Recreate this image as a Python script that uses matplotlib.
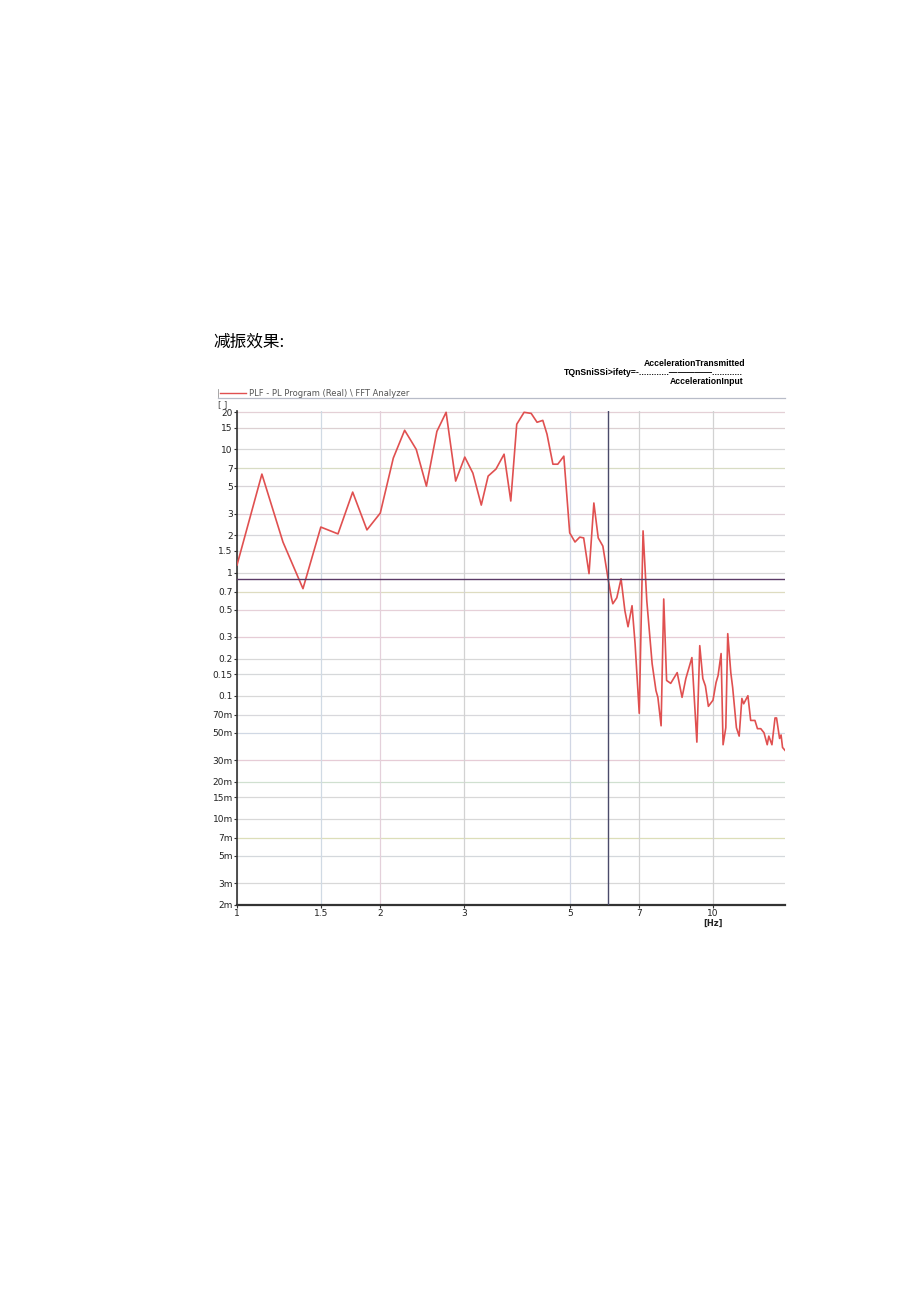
import matplotlib
matplotlib.use("Agg")
import matplotlib.pyplot as plt
from matplotlib.lines import Line2D

plt.rcParams['font.family'] = ['DejaVu Sans']

# response curve (Hz, ratio)
freq = [1.0, 1.128, 1.249, 1.376, 1.5, 1.63, 1.75, 1.875, 2.0, 2.13, 2.25, 2.38, 2.5,
        2.63, 2.75, 2.88, 3.01, 3.13, 3.26, 3.37, 3.5, 3.64, 3.76, 3.87, 4.01, 4.15,
        4.27, 4.39, 4.48, 4.61, 4.72, 4.86, 5.0, 5.13, 5.25, 5.35, 5.49, 5.62, 5.74,
        5.87, 6.02, 6.12, 6.16, 6.28, 6.41, 6.53, 6.63, 6.76, 6.86, 7.0, 7.13, 7.26,
        7.45, 7.59, 7.66, 7.78, 7.88, 7.99, 8.15, 8.41, 8.61, 8.77, 9.03, 9.25, 9.38,
        9.52, 9.64, 9.78, 10.0, 10.15, 10.25, 10.4, 10.5, 10.64, 10.74, 10.9, 11.0,
        11.2, 11.35, 11.5, 11.6, 11.84, 12.0, 12.25, 12.4, 12.6, 12.8, 13.0, 13.1,
        13.3, 13.5, 13.6, 13.8, 13.9, 14.0, 14.17]
ratio = [1.15, 6.3, 1.77, 0.74, 2.34, 2.06, 4.5, 2.22, 3.04, 8.5, 14.3, 10.0, 5.03,
         14.0, 20.0, 5.53, 8.66, 6.42, 3.53, 6.07, 6.92, 9.14, 3.81, 16.0, 20.0, 19.6,
         16.6, 17.2, 13.3, 7.58, 7.58, 8.81, 2.1, 1.77, 1.94, 1.91, 0.98, 3.67, 1.91,
         1.64, 0.89, 0.62, 0.558, 0.624, 0.89, 0.49, 0.363, 0.538, 0.265, 0.072, 2.18,
         0.59, 0.182, 0.11, 0.097, 0.057, 0.61, 0.133, 0.126, 0.154, 0.097, 0.138,
         0.204, 0.042, 0.255, 0.138, 0.12, 0.082, 0.092, 0.128, 0.146, 0.22, 0.04,
         0.055, 0.319, 0.154, 0.116, 0.055, 0.047, 0.095, 0.086, 0.1, 0.063, 0.063,
         0.054, 0.054, 0.05, 0.04, 0.047, 0.04, 0.066, 0.066, 0.045, 0.048, 0.038,
         0.036]

limit_level = 0.889
cut_freq = 6.02

ytick_vals = [20, 15, 10, 7, 5, 3, 2, 1.5, 1, 0.7, 0.5, 0.3, 0.2, 0.15, 0.1,
              0.07, 0.05, 0.03, 0.02, 0.015, 0.01, 0.007, 0.005, 0.003, 0.002]
ytick_text = ["20", "15", "10", "7", "5", "3", "2", "1.5", "1", "0.7", "0.5", "0.3",
              "0.2", "0.15", "0.1", "70m", "50m", "30m", "20m", "15m", "10m", "7m",
              "5m", "3m", "2m"]
xtick_vals = [1, 1.5, 2, 3, 5, 7, 10]
xtick_text = ["1", "1.5", "2", "3", "5", "7", "10"]

# faint tints of the analyzer grid
hgrid_cols = ["#e4d0d6", "#dcd0d2", "#d8d8d8", "#d8dcc4", "#d8d4d8", "#e0d0d8",
              "#d6d6da", "#dcdcdc", "#d8d8d8", "#dedcc0", "#e6d0d8", "#e6ccd6",
              "#d8d8d8", "#d6d8da", "#d8d8d8", "#d8d8dc", "#d0d8e4", "#e6ccd6",
              "#d0e0d0", "#d8d8d8", "#d8d8d8", "#dcdeb8", "#d4d8dc", "#d8d8d8",
              "#d8d8d8"]
vgrid_cols = ["#d8d8d8", "#d0dae4", "#e4d0da", "#d2d2d2", "#d0d6e4", "#d2d2d2",
              "#d2d2d2"]

fig = plt.figure(figsize=(9.2, 13.01), dpi=100)
ax = fig.add_axes([0.2576, 0.3044, 0.5957, 0.3797])
ax.set_xscale("log")
ax.set_yscale("log")
ax.set_xlim(1, 14.17)
ax.set_ylim(0.002, 20.5)

for v, c in zip(ytick_vals, hgrid_cols):
    ax.axhline(v, color=c, lw=0.9, zorder=1)
for v, c in zip(xtick_vals, vgrid_cols):
    ax.axvline(v, color=c, lw=0.9, zorder=1)

ax.plot(freq, ratio, color="#e05050", lw=1.2, zorder=3, clip_on=True)
ax.axhline(limit_level, color="#5a3a66", lw=1.0, zorder=4)
ax.axvline(cut_freq, color="#4a4a6a", lw=1.0, zorder=4)

ax.set_yticks(ytick_vals)
ax.set_yticklabels(ytick_text)
ax.set_xticks(xtick_vals)
ax.set_xticklabels(xtick_text)
ax.minorticks_off()
ax.tick_params(axis="both", labelsize=6.5, length=2, width=0.8, pad=1,
               colors="#333333", labelcolor="#222222")

for side in ["top", "right"]:
    ax.spines[side].set_visible(False)
ax.spines["left"].set_color("#333333")
ax.spines["bottom"].set_color("#333333")
ax.spines["left"].set_linewidth(1.2)
ax.spines["bottom"].set_linewidth(1.6)

fig.text(713 / 920, 1 - 923 / 1301, "[Hz]", fontsize=6, fontweight="bold",
         ha="center", va="center", color="#222222")

# header block
fig.text(213 / 920, 1 - 342 / 1301, "减振效果:", fontsize=12,
         family=["Noto Sans CJK SC", "DejaVu Sans"], va="center", ha="left")
fig.text(745 / 920, 1 - 363 / 1301, "AccelerationTransmitted", fontsize=6.2,
         fontweight="bold", ha="right", va="center", family="Liberation Sans")
fig.text(743 / 920, 1 - 373 / 1301,
         "TQnSniSSi>ifety=-............\u2014\u2014\u2014\u2014\u2014............",
         fontsize=6.2, fontweight="bold", ha="right", va="center",
         family="Liberation Sans")
fig.text(743 / 920, 1 - 382 / 1301, "AccelerationInput", fontsize=6.2,
         fontweight="bold", ha="right", va="center", family="Liberation Sans")

# legend row and frame line
fig.add_artist(Line2D([220 / 920, 246 / 920], [1 - 393 / 1301, 1 - 393 / 1301],
                      color="#e05050", lw=1.0))
fig.add_artist(Line2D([218 / 920, 218 / 920], [1 - 389 / 1301, 1 - 397 / 1301],
                      color="#999999", lw=0.6))
fig.text(249 / 920, 1 - 393 / 1301, "PLF - PL Program (Real) \\ FFT Analyzer",
         fontsize=6, color="#555555", ha="left", va="center")
fig.add_artist(Line2D([218 / 920, 785 / 920], [1 - 398 / 1301, 1 - 398 / 1301],
                      color="#b8bcc8", lw=0.9))
fig.text(218 / 920, 1 - 405 / 1301, "[ ]", fontsize=6, color="#444444",
         ha="left", va="center")

fig.savefig("out.png", dpi=100)
